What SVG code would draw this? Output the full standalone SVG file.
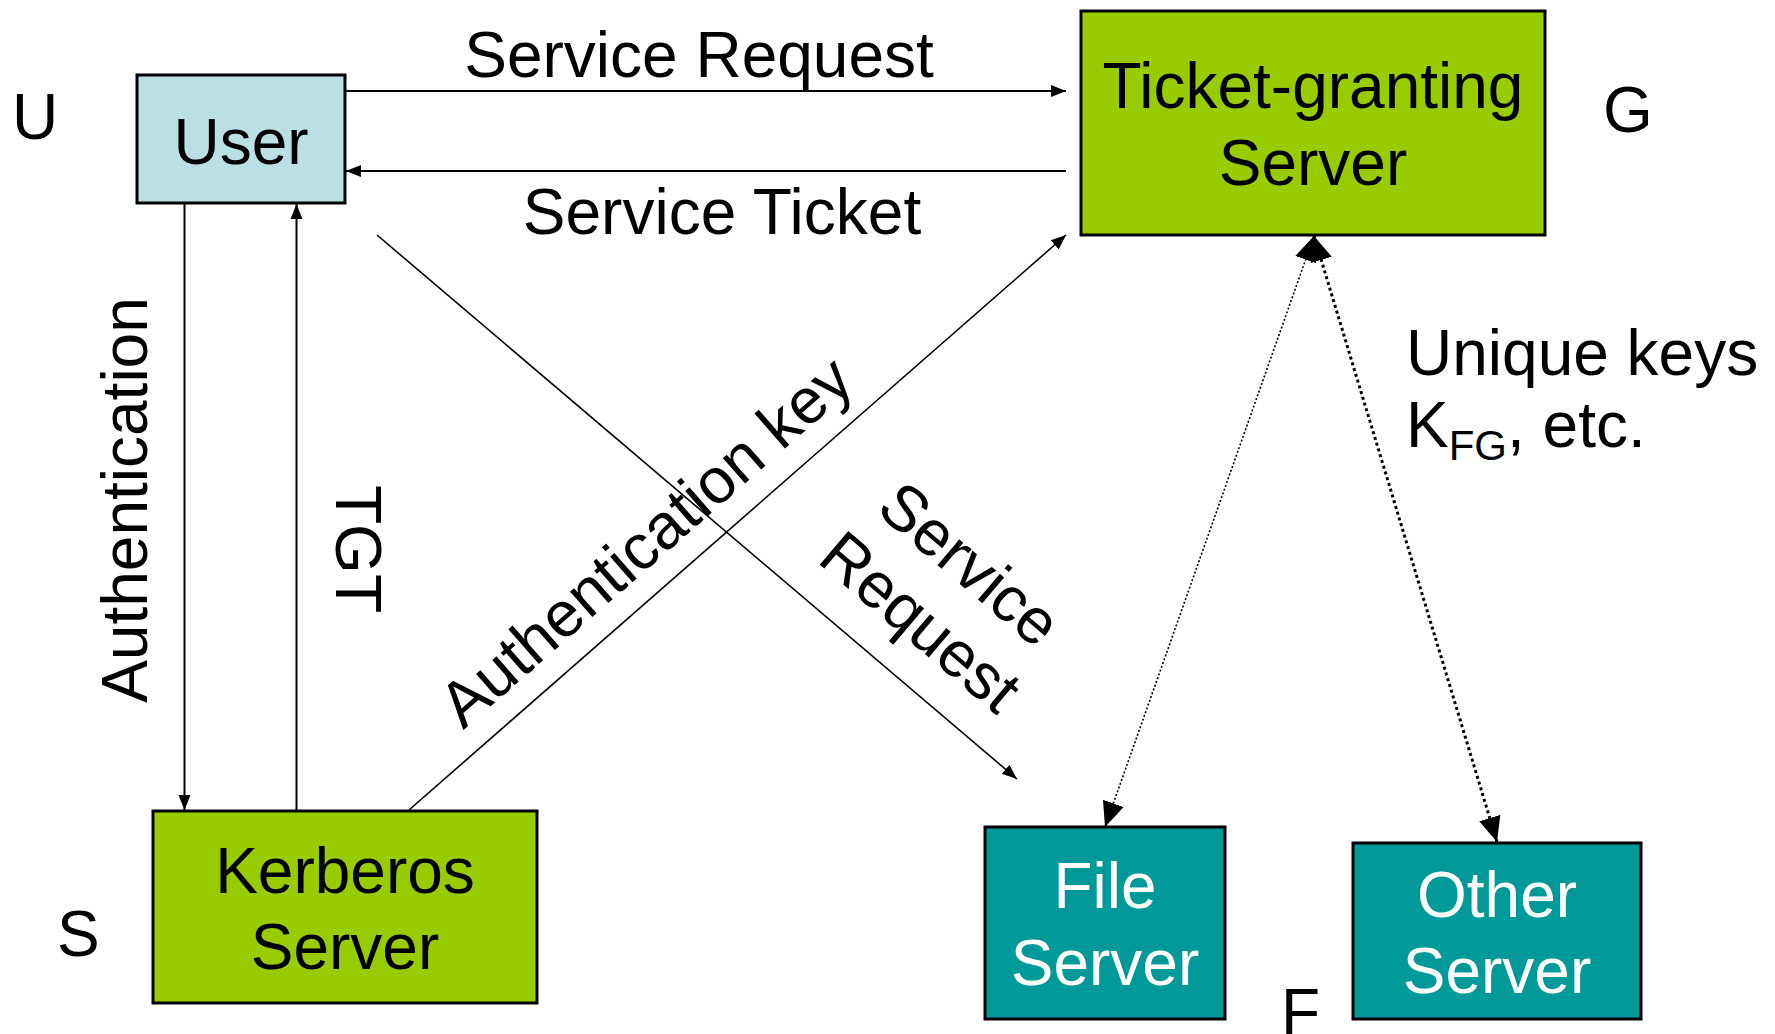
<svg xmlns="http://www.w3.org/2000/svg" width="1775" height="1034" viewBox="0 0 1775 1034">
<style>
text{font-family:"Liberation Sans",Arial,sans-serif;font-size:64px;fill:#000}
.box{stroke:#000;stroke-width:3}
.user{fill:#BBE0E3}
.green{fill:#99CC00}
.teal{fill:#009999}
.w{fill:#fff}
.c{text-anchor:middle}
.ln{stroke:#000;stroke-width:2;fill:none}
.dg{stroke:#000;stroke-width:1.6;fill:none}
.d1{stroke:#000;stroke-width:1.6;stroke-dasharray:2 2;fill:none}
.d2{stroke:#000;stroke-width:3;stroke-dasharray:3 3;fill:none}
</style>
<defs>
<marker id="a" markerUnits="userSpaceOnUse" markerWidth="16" markerHeight="14" refX="15" refY="7" orient="auto-start-reverse"><path d="M0,1 L15,7 L0,13 z" fill="#000"/></marker>
<marker id="b" markerUnits="userSpaceOnUse" markerWidth="26" markerHeight="26" refX="25" refY="13" orient="auto-start-reverse"><path d="M0,2 L25,13 L0,24 z" fill="#000"/></marker>
</defs>
<g id="connectors">
<line class="ln" x1="345" y1="91" x2="1066" y2="91" marker-end="url(#a)"/>
<line class="ln" x1="1066" y1="171" x2="346" y2="171" marker-end="url(#a)"/>
<line class="ln" x1="184.5" y1="203" x2="184.5" y2="810" marker-end="url(#a)"/>
<line class="ln" x1="296.5" y1="810" x2="296.5" y2="204" marker-end="url(#a)"/>
<line class="dg" x1="409" y1="810" x2="1066" y2="235" marker-end="url(#a)"/>
<line class="dg" x1="377" y1="235" x2="1017" y2="779" marker-end="url(#a)"/>
<line class="d1" x1="1314" y1="236" x2="1105" y2="827" marker-start="url(#b)" marker-end="url(#b)"/>
<line class="d2" x1="1314" y1="236" x2="1497" y2="842" marker-start="url(#b)" marker-end="url(#b)"/>
<text class="c" x="699" y="77">Service Request</text>
<text class="c" x="722" y="234">Service Ticket</text>
<text class="c" transform="translate(147,500) rotate(-90)">Authentication</text>
<text class="c" transform="translate(336,549) rotate(90)">TGT</text>
<text class="c" transform="translate(660,558) rotate(-41.2)">Authentication key</text>
<g transform="translate(946,592) rotate(40.4)">
<text class="c" x="0" y="-15">Service</text>
<text class="c" x="0" y="61">Request</text>
</g>
</g>
<g id="user">
<rect class="box user" x="137" y="75" width="208" height="128"/>
<text class="c" x="241" y="164">User</text>
</g>
<g id="tgs">
<rect class="box green" x="1081" y="11" width="464" height="224"/>
<text class="c" x="1313" y="108">Ticket-granting</text>
<text class="c" x="1313" y="185">Server</text>
</g>
<g id="kerberos">
<rect class="box green" x="153" y="811" width="384" height="192"/>
<text class="c" x="345" y="893">Kerberos</text>
<text class="c" x="345" y="969">Server</text>
</g>
<g id="fileserver">
<rect class="box teal" x="985" y="827" width="240" height="192"/>
<text class="c w" x="1105" y="908">File</text>
<text class="c w" x="1105" y="985">Server</text>
</g>
<g id="otherserver">
<rect class="box teal" x="1353" y="843" width="288" height="176"/>
<text class="c w" x="1497" y="917">Other</text>
<text class="c w" x="1497" y="993">Server</text>
</g>
<g id="labels">
<text x="12" y="139">U</text>
<text x="1603" y="132">G</text>
<text x="57" y="956">S</text>
<text x="1281" y="1034">F</text>
<text x="1406" y="375">Unique keys</text>
<text x="1406" y="447">K<tspan font-size="42" dy="13">FG</tspan><tspan dy="-13">, etc.</tspan></text>
</g>
</svg>
